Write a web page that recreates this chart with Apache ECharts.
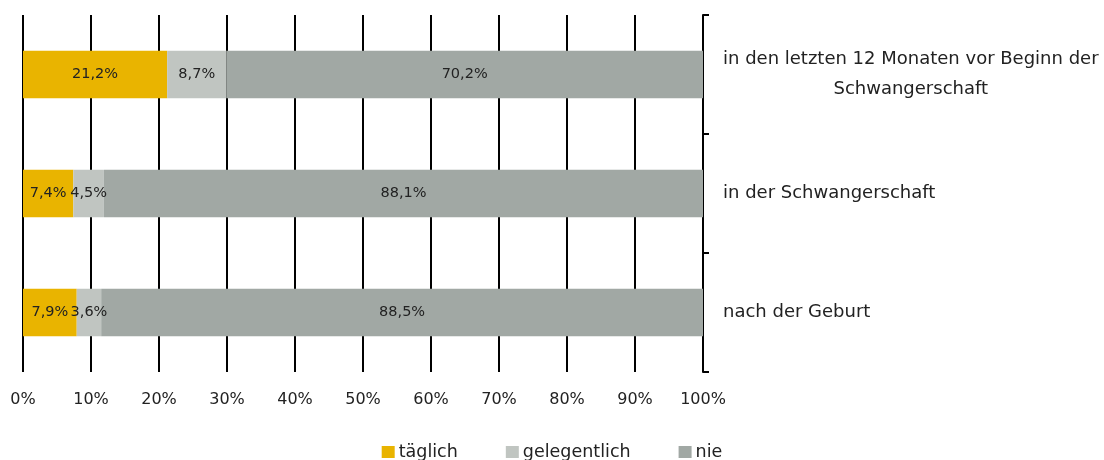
<!DOCTYPE html>
<html>
<head>
<meta charset="utf-8">
<script src="https://cdn.jsdelivr.net/npm/echarts@6/dist/echarts.min.js"></script>
<style>
  html, body { margin: 0; padding: 0; background: #fff; }
  #chart { width: 1104px; height: 460px; }
</style>
</head>
<body>
<div id="chart"></div>
<script>
// Kategorien (von oben nach unten)
const categories = [
  'in den letzten 12 Monaten vor Beginn der\nSchwangerschaft',
  'in der Schwangerschaft',
  'nach der Geburt'
]
const taeglich = [21.2, 7.4, 7.9]
const gelegentlich = [8.7, 4.5, 3.6]
const nie = [70.2, 88.1, 88.5]
const seriesNames = ['täglich', 'gelegentlich', 'nie']
const colors = ['#E9B400', '#C0C5C1', '#A1A8A4']

const fontFamily = '"DejaVu Sans", sans-serif'

const chart = echarts.init(document.getElementById('chart'))

function makeSeries(name, data, color) {
  return {
    name: name,
    type: 'bar',
    stack: 'total',
    barWidth: '40%',
    itemStyle: { color: color },
    label: {
      show: true,
      position: 'inside',
      color: '#222',
      fontFamily: fontFamily,
      fontSize: 14.5,
      formatter: p => p.value.toFixed(1).replace('.', ',') + '%'
    },
    data: data
  }
}

chart.setOption({
  animation: false,
  color: colors,
  grid: {
    left: 23,
    right: 401,
    top: 15,
    bottom: 88
  },
  legend: {
    bottom: -6,
    left: 'center',
    icon: 'rect',
    itemWidth: 13,
    itemHeight: 12,
    itemGap: 48,
    textStyle: { fontFamily: fontFamily, fontSize: 17.5, color: '#222', padding: [0, 0, 0, -1] },
    data: seriesNames
  },
  xAxis: {
    type: 'value',
    min: 0,
    max: 100,
    interval: 10,
    axisLine: { show: false },
    axisTick: { show: false },
    splitLine: { show: true, lineStyle: { color: '#000', width: 2 } },
    axisLabel: {
      margin: 20,
      color: '#222',
      fontFamily: fontFamily,
      fontSize: 16,
      formatter: '{value}%'
    }
  },
  yAxis: {
    type: 'category',
    position: 'right',
    inverse: true,
    data: categories,
    axisLine: { show: true, onZero: false, lineStyle: { color: '#000', width: 2 } },
    axisTick: { show: true, length: 6, lineStyle: { color: '#000', width: 2 } },
    axisLabel: {
      margin: 20,
      align: 'left',
      color: '#222',
      fontFamily: fontFamily,
      fontSize: 18,
      lineHeight: 30,
      formatter: v => v.split('\n').map(s => '{c|' + s + '}').join('\n'),
      rich: {
        c: { align: 'center', fontFamily: fontFamily, fontSize: 18, lineHeight: 30, color: '#222' }
      }
    }
  },
  series: [
    makeSeries(seriesNames[0], taeglich, colors[0]),
    makeSeries(seriesNames[1], gelegentlich, colors[1]),
    makeSeries(seriesNames[2], nie, colors[2])
  ]
})
</script>
</body>
</html>
